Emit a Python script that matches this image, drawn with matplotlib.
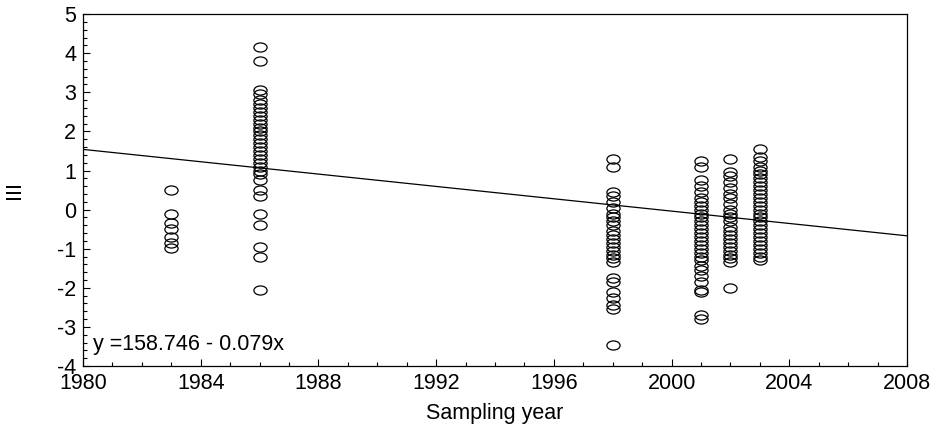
import numpy as np
import matplotlib
matplotlib.use("Agg")
import matplotlib.pyplot as plt
from matplotlib.path import Path
from matplotlib.transforms import Affine2D
from matplotlib.ticker import MultipleLocator

plt.rcParams['font.family'] = ['Liberation Sans', 'DejaVu Sans']
plt.rcParams['axes.unicode_minus'] = False

y1983 = [0.5, -0.1, -0.35, -0.5, -0.7, -0.85, -0.97]
y1986 = [4.15, 3.8, 3.05, 2.95, 2.8, 2.7, 2.6, 2.5, 2.4, 2.3, 2.2, 2.1, 2.0, 1.9,
         1.8, 1.7, 1.6, 1.5, 1.4, 1.3, 1.2, 1.1, 1.0, 0.9, 0.75, 0.5, 0.35,
         -0.1, -0.4, -0.95, -1.2, -2.05]
y1998 = [1.3, 1.1, 0.45, 0.35, 0.2, 0.05, -0.1, -0.2, -0.3, -0.4, -0.55, -0.65,
         -0.75, -0.85, -0.95, -1.05, -1.15, -1.25, -1.35, -1.75, -1.85, -2.1,
         -2.25, -2.45, -2.55, -3.45]
y2001 = [1.25, 1.1, 0.75, 0.6, 0.45, 0.3, 0.2, 0.1, 0.0, -0.1, -0.2, -0.3, -0.4,
         -0.5, -0.6, -0.7, -0.8, -0.9, -1.0, -1.1, -1.2, -1.3, -1.45, -1.55,
         -1.7, -1.85, -2.05, -2.1, -2.7, -2.8]
y2002 = [1.3, 0.95, 0.85, 0.7, 0.55, 0.4, 0.3, 0.15, 0.0, -0.1, -0.2, -0.3,
         -0.45, -0.55, -0.65, -0.75, -0.85, -0.95, -1.05, -1.15, -1.25, -1.35,
         -2.0]
y2003 = [1.55, 1.35, 1.25, 1.1, 1.0, 0.9, 0.8, 0.7, 0.6, 0.5, 0.4, 0.3, 0.2,
         0.1, 0.0, -0.1, -0.2, -0.3, -0.4, -0.5, -0.6, -0.7, -0.8, -0.9, -1.0,
         -1.1, -1.2, -1.3]
groups = {1983: y1983, 1986: y1986, 1998: y1998, 2001: y2001, 2002: y2002, 2003: y2003}

# fitted line as drawn
line_x = [1980, 2008]
line_y = [1.54, -0.67]
eq_text = "y =158.746 - 0.079x"

fs = 15.5

# flat ellipse marker like the original
ellipse = Path.unit_circle().transformed(Affine2D().scale(1.45, 1.0))

fig = plt.figure(figsize=(9.36, 4.25), dpi=100)
ax = fig.add_axes([0.0887, 0.1388, 0.8803, 0.828])

for yr, vals in groups.items():
    ax.plot([yr] * len(vals), vals, linestyle='none', marker=ellipse,
            markersize=9.5, markerfacecolor='none', markeredgecolor='black',
            markeredgewidth=0.9)

ax.plot(line_x, line_y, color='black', linewidth=0.9)

ax.set_xlim(1980, 2008)
ax.set_ylim(-4, 5)
ax.xaxis.set_major_locator(MultipleLocator(4))
ax.xaxis.set_minor_locator(MultipleLocator(1))
ax.yaxis.set_major_locator(MultipleLocator(1))
ax.yaxis.set_minor_locator(MultipleLocator(0.2))
ax.tick_params(which='both', direction='in', top=False, right=False,
               labelsize=fs, width=0.8)
ax.tick_params(which='major', length=5)
ax.tick_params(which='minor', length=3)
ax.tick_params(axis='y', pad=5)
ax.tick_params(axis='x', pad=5)
for s in ax.spines.values():
    s.set_linewidth(0.9)

ax.set_xlabel('Sampling year', fontsize=fs)
ax.xaxis.set_label_coords(0.5, -0.105)
ax.set_ylabel('III', fontsize=fs)
ax.yaxis.set_label_coords(-0.083, 0.5)
ax.yaxis.label.set_va('center')
ax.text(0.012, 0.03, eq_text, transform=ax.transAxes, fontsize=fs,
        ha='left', va='bottom')

fig.savefig('out.png', dpi=100)
